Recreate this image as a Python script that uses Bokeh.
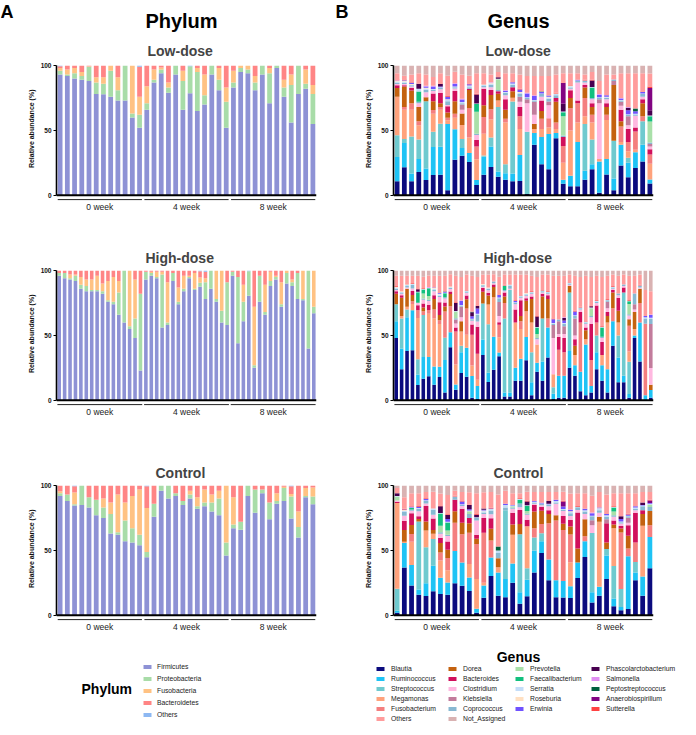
import numpy as np
from bokeh.plotting import figure
from bokeh.models import Range1d, FixedTicker, Span, Title, Legend, LegendItem
from bokeh.layouts import column, row
from bokeh.embed import file_html
from bokeh.resources import INLINE
from bokeh.core.properties import value

FONT = "Liberation Sans"
WEEKS = ["0 week", "4 week", "8 week"]

PHYLA = ["Firmicutes", "Proteobacteria", "Fusobacteria", "Bacteroidetes", "Others"]
PHYLUM_COLORS = ["#8E92D5", "#A8DCA8", "#FFC283", "#FF8585", "#8DB8F2"]

# ---------------- Phylum data (%), 12 or 16 samples per week ----------------
LOW_FIRMICUTES = [93,92,90,89,88,78,77,76,73,73,60,52, 66,87,94,79,93,66,79,65,70,93,81,52, 83,95,94,81,93,71,98,76,56,78,82,55]
LOW_PROTEOBACTERIA = [3,1,4,3,11,9,8,20,8,27,3,10, 5,2,3,4,7,22,21,30,7,7,8,20, 4,3,3,6,7,23,2,7,29,22,4,23]
LOW_FUSOBACTERIA = [2,4,4,3,0.5,4,5,4,10,0,37,14, 13,8,1.5,4,0,8,0,3,16,0,9,11, 9,2,3,5,0,4,0,6,8,0,11,7]
LOW_BACTEROIDETES = [1.5,3,2,5,0.5,9,9,0,9,0,0,23, 16,3,1.5,13,0,4,0,2,7,0,2,17, 4,0,0,8,0,2,0,11,7,0,3,15]
LOW_PH_OTHERS = [0.5,0,0,0,0,0,0,0,0,0,0,1, 0,0,0,0,0,0,0.5,0,0,0,0,0, 0,0,0,0,0,0,0,0,0,0,0,0]

HIGH_FIRMICUTES = [96,94,93,92,86,84,84,84,82,76,74,66,60,55,48,23, 93,96,94,56,58,92,74,84,94,85,88,78,86,76,60,58, 96,44,61,81,25,76,66,88,93,72,90,88,78,77,40,67]
HIGH_PROTEOBACTERIA = [2,4,1,4,3,4,1,1,2,1,2,17,40,2,15,59, 6,2,1,41,2,6,2,2,1,1,3,13,14,2,9,33, 3,51,15,19,2,20,2,4,2,2,8,3,20,1,60,5]
HIGH_FUSOBACTERIA = [0,0,3,1,6,5,8,11,6,15,19,9,0,43,30,0, 0,1,4,2,31,0,11,10,1,12,4,3,0,22,31,0, 0,0,13,0,45,0,21,7,1,17,2,2,0,22,0,28]
HIGH_BACTEROIDETES = [2,2,3,3,5,7,7,4,10,8,5,8,0,0,7,18, 1,1,1,1,9,2,13,4,4,2,5,5,0,0,0,9, 1,5,11,0,28,4,11,1,4,9,0,7,2,0,0,0]
HIGH_PH_OTHERS = [0,0,0,0,0,0,0,0,0,0,0,0,0,0,0,0, 0,0,0,0,0,0,0,0,0,0,0.5,1,0,0,0,0, 0,0,0,0.5,0,0,0,0,0,0,0,0,0,0,0,0]

CTRL_FIRMICUTES = [92,88,85,85,83,77,75,63,62,57,56,54, 45,76,96,90,92,85,90,82,84,80,77,46, 67,66,92,79,94,74,86,88,75,60,91,86]
CTRL_PROTEOBACTERIA = [2,5,1,15,8,12,8,15,2,16,11,8, 4,10,4,10,2,3,3,2,3,7,13,10, 3,6,8,18,3,13,2,10,17,8,1,6]
CTRL_FUSOBACTERIA = [1.5,0,9,0,0,0,7,9,29,14,25,35, 34,0,0,0,0,0,3,7,10,6,6,44, 21,0,0,0,0,0,6,1,2,12,6,7]
CTRL_BACTEROIDETES = [4.5,7,5,0,9,11,10,13,7,13,8,3, 17,14,0,0,6,12,4,9,3,7,4,0, 9,28,0,3,3,13,6,1,6,20,2,1.5]
CTRL_PH_OTHERS = [0,0,0.5,0,0,0,0,0,0,0,0,0, 0.5,0,0,0,0,0,0,0,0,0,0,0, 0,0,0,0,0,0,0,0,0.5,0,0,0]

# ---------------- Genus data (%) ----------------
GENERA = ["Blautia", "Ruminococcus", "Streptococcus", "Megamonas", "Fusobacterium",
          "Dorea", "Bacteroides", "Clostridium", "Klebsiella", "Coprococcus",
          "Prevotella", "Faecalibacterium", "Serratia", "Roseburia", "Erwinia",
          "Phascolarctobacterium", "Salmonella", "Peptostreptococcus",
          "Anaerobiospirillum", "Sutterella", "Others", "Not_Assigned"]
GENUS_COLORS = ["#0B0B7E", "#1EC3F5", "#6FCACF", "#FFA27C", "#F47F7F",
                "#C4620F", "#D1105C", "#FFB8E0", "#C27C9C", "#88B8D2",
                "#A9E0A9", "#12C07E", "#C3DDF8", "#FFE0C2", "#7052FF",
                "#480050", "#E08EF2", "#00603E", "#820482", "#FF4242",
                "#FF9C9C", "#D9B2B2"]

LOW_BLAUTIA = [11,22,11,18,12,16,16,4,28,31,26,8, 16,22,14,12,11,11,1,39,24,20,44,9, 7,7,12,20,2,16,4,23,14,21,26,9]
LOW_RUMINOCOCCUS = [19,19,6,10,9,22,22,52,24,6,7,4, 14,16,4,5,6,20,0,9,21,27,4,3, 8,34,7,4,24,12,9,16,11,12,13,3]
LOW_STREPTOCOCCUS = [17,3,29,15,53,12,18,0,0,7,0,0, 1,7,49,7,56,0,48,0,0,0,0,0, 0,0,36,19,0,0,29,0,4,0,18,0]
LOW_MEGAMONAS = [30,23,21,11,0,14,11,3,9,11,12,16, 17,14,5,32,3,20,0,3,6,5,3,13, 35,15,6,13,2,30,0,2,5,2,0,12]
LOW_FUSOBACTERIUM = [0,2,5,3,0,3,2,2,3,0,23,10, 13,8,0,3,0,10,0,0,8,7,5,13, 17,15,14,6,0,4,0,12,7,14,4,7]
LOW_DOREA = [7,16,10,11,3,7,3,4,10,9,14,0, 9,11,5,7,5,0,0,4,6,0,16,0, 8,0,8,6,0,6,43,4,0,0,10,0]
LOW_BACTEROIDES = [2,1,2,0,0,6,8,5,8,0,1,5, 13,4,2,8,3,7,0,0,8,0,3,7, 6,2,2,3,0,3,0,9,10,3,3,4]
LOW_CLOSTRIDIUM = [1,1,1,3,4,2,3,1,2,3,0,4, 1,2,0,3,0,4,22,7,3,10,0,0, 1,14,2,3,43,3,0,3,3,9,2,2]
LOW_KLEBSIELLA = [0,0,0,0,0,0,0,0,0,4,0,0, 0,0,0,0,0,4,3,10,0,3,0,0, 0,0,0,0,3,0,3,3,7,0,0,2]
LOW_COPROCOCCUS = [1,1,1,1,2,1,1,3,1,1,1,1, 1,2,1,2,2,2,1,1,2,2,2,1, 1,1,1,1,1,1,1,1,1,1,2,1]
LOW_PREVOTELLA = [0,0,0,0,0,0,0,0,0,0,0,17, 0,0,8,0,0,0,0,0,0,0,0,15, 0,0,0,0,0,0,0,0,0,0,0,16]
LOW_FAECALIBACTERIUM = [0,0,0,8,0,0,0,0,0,0,0,6, 0,0,0,0,0,0,0,0,0,0,0,3, 0,0,0,8,0,0,0,0,0,0,0,4]
LOW_SERRATIA = [1,1,0.5,2,1,0.5,0.5,1,0.5,1,1,0.5, 1,1,0.5,0.5,1,1,0.5,0.5,0.5,1,1,0.5, 1,0.5,0.5,0.5,0.5,0.5,0.5,0.5,0.5,0.5,0.5,0.5]
LOW_ROSEBURIA = [0.5,0.5,0.5,0,0.5,0,0,0.5,0,0,0.5,0, 0.5,0.5,0,0,0,0.5,0,0,0,0.5,0.5,0, 0.5,0,0,0,0,0.5,0,0,0,0,0,0]
LOW_ERWINIA = [0,0.5,1,0,1,2,0.5,2,2,2,1,0, 0,0,0,1,1,2,3,3,1,1,0,0, 0,0.5,0,0,2,1,0,1,3,2,1,0]
LOW_PHASCOLARCTOBACTERIUM = [0,0,0,4,0,0,2,0,0,0,0,7, 0,0,1,0,0,0,0,0,0,0,0,6, 0,0,0,5,0,0,0,0,2,0,0,4]
LOW_SALMONELLA = [0.5,0,0,0,0.5,0.5,0,0,0.5,0.5,0,0, 0,0.5,0,0.5,0,0,0.5,0.5,0,0,0,0, 0,0,0,0,0.5,0,0,0.5,0.5,0,0,0]
LOW_PEPTOSTREPTOCOCCUS = [0,0,0,0,0,0,0,0,0,0,0,0, 0,0,0,0,0,0,0,0,0.5,0,0,0, 0,0,0,0,0,0,0,0,0,2,0,0]
LOW_ANAEROBIOSPIRILLUM = [0,0,0,0,0,0,0,0,0,0,0,0, 0,0,0,0,0,0,0,0,0,0,0,16, 0,0,0,0,0,0,0,0,0,0,0,17]
LOW_SUTTERELLA = [0.5,0.5,0.5,0,0,0,0.5,0.5,0,0,0.5,0.5, 0.5,0,0,0,0,0.5,0,0,0,0,0.5,0.5, 0.5,0,0.5,0.5,0,0,0.5,0,0,0,0.5,1]
LOW_OTHERS = [5,3,6,8,9,7,8,16,9,19,6,16, 8,6,4,13,7,11,13,15,12,15,14,7, 9,5,4,6,10,16,3,19,26,27,14,10]
LOW_NOT_ASSIGNED = [6,8,7,6,7,9,6,8,5,7,8,6, 6,7,5,6,6,7,8,8,8,8,7,6, 6,6,7,5,12,7,7,6,6,6,6,6]

HIGH_BLAUTIA = [48,24,38,39,12,17,19,12,18,6,43,8,21,18,2,1, 35,14,24,35,3,3,15,15,31,4,22,15,33,1,2,2, 25,19,7,4,6,24,15,6,42,14,14,2,48,30,0,2]
HIGH_RUMINOCOCCUS = [13,16,26,31,8,17,15,14,8,25,12,4,16,22,17,10, 12,7,26,3,3,3,10,17,18,10,7,15,23,4,17,17, 13,8,15,39,5,13,12,18,19,19,5,3,2,30,4,6]
HIGH_STREPTOCOCCUS = [13,23,6,0,12,33,0,0,0,17,0,0,5,0,0,0, 28,37,0,0,57,79,0,0,0,23,0,33,0,5,0,0, 45,0,0,0,0,13,0,0,0,17,64,25,0,0,0,0]
HIGH_MEGAMONAS = [0,2,2,5,32,0,34,37,33,0,0,15,11,10,8,5, 0,15,31,12,0,0,35,23,20,23,14,0,0,10,0,0, 0,8,0,4,0,0,8,36,0,10,0,8,5,0,0,0]
HIGH_FUSOBACTERIUM = [0,0,0,2,6,3,3,7,3,20,21,25,0,20,24,20, 0,0,0,10,12,0,0,6,0,0,0,0,7,0,20,18, 0,0,38,0,20,10,0,0,10,0,0,20,0,15,55,0]
HIGH_DOREA = [8,14,14,5,0,3,0,8,4,4,10,0,8,7,0,0, 9,7,8,0,5,0,0,4,8,18,0,17,15,0,0,0, 5,7,0,7,0,0,0,5,12,9,0,5,13,11,0,4]
HIGH_BACTEROIDES = [2,2,0,3,4,3,4,3,10,3,2,3,0,3,8,21, 3,2,2,2,3,0,10,12,2,2,0,2,3,0,10,11, 0,5,8,2,28,13,10,3,2,10,4,0,0,0,0,0]
HIGH_CLOSTRIDIUM = [1,1,1,2,2,3,3,3,4,3,2,3,3,2,3,4, 1,2,1,5,1,1,4,2,2,2,4,1,1,28,2,3, 1,3,2,3,5,2,3,3,1,2,1,3,2,1,0,13]
HIGH_KLEBSIELLA = [0,0,0,0,0,0,0,0,0,0,0,3,8,0,0,0, 0,0,0,11,0,0,0,0,0,0,0,0,0,10,10,6, 0,13,0,0,0,0,0,5,0,0,0,0,4,0,0,34]
HIGH_COPROCOCCUS = [1,1,1,3,0,1,1,1,1,1,1,1,1,1,1,5, 1,1,1,3,1,2,1,1,1,1,1,1,1,1,1,2, 1,2,1,1,1,1,1,1,1,1,1,1,8,1,4,4]
HIGH_PREVOTELLA = [0,0,0,0,0,4,3,0,0,0,0,5,0,0,0,0, 0,0,0,0,0,0,0,0,0,0,3,0,0,0,0,0, 0,0,0,0,6,0,0,0,0,0,0,8,0,0,0,0]
HIGH_FAECALIBACTERIUM = [0,0,0,0,8,3,6,0,0,3,0,0,0,0,0,0, 0,0,0,0,3,0,0,0,0,0,5,0,0,0,0,0, 0,0,0,0,0,0,7,0,0,0,0,2,0,0,0,0]
HIGH_SERRATIA = [1,0.5,1,0.5,0.5,0.5,0.5,1,1,0.5,0.5,0.5,0.5,0.5,0.5,1, 0.5,0.5,0.5,0.5,0.5,1,0.5,0.5,0.5,0.5,0.5,0.5,0.5,0.5,0.5,0.5, 0.5,0.5,0.5,0.5,0.5,0.5,0.5,0.5,0.5,0.5,0.5,0.5,0.5,0.5,1,1]
HIGH_ROSEBURIA = [0.5,0.5,0.5,0,0,0,0,0.5,0.5,0,0.5,0,0,0,0,0, 0.5,0.5,0,0,0,0,0,0,0.5,0,0,0,0,0,0,0, 0,0,0,0,0,0,0,0,0,0,0,0,0,0,0,0]
HIGH_ERWINIA = [0,0,0,0,0,0,0,0.5,0.5,0.5,0,0,3,0,2,4, 0,0,0,2,0,0,1,0,0,0,0,0,0,3,0,2, 0,3,0,0,0,0,0,0,0,0,0,0,0,0,1,2]
HIGH_PHASCOLARCTOBACTERIUM = [0,0,0,0,2,0,0,0,0,0,0,6,0,0,3,2, 0,0,0,0,0,0,0,0,0,0,8,0,0,0,0,2, 0,0,0,0,1,0,0,0,0,0,0,0,0,0,0,0]
HIGH_SALMONELLA = [0,0,0,0,0,0,0.5,0,0,0,0,0,0.5,0,0,0, 0,0,0,0,0,0,0,0,0,0,0,0,0,0,0,0.5, 0,0,0,0,0,0,0,0,0,0,0,0,0,0,0,0.5]
HIGH_PEPTOSTREPTOCOCCUS = [0,0,0,0,0,0,0,0,0,0.5,0,0,0,0,0.5,0, 0,0,0,0,0,0,0,0,0,0,0,0,0,0,0,0, 0,0,0,0,0,0,0,0,0,0,0,0,0,0,0,0]
HIGH_ANAEROBIOSPIRILLUM = [0,0,0,0,0,0,0,0,0,0,0,0,0,0,0,0, 0,0,0,0,0,0,0,0,0,0,0,0,0,0,0,0, 0,0,0,0,0,0,0,0,0,0,0,0,0,0,0,0]
HIGH_SUTTERELLA = [0.5,0,0.5,0.5,0.5,0.5,0,0,0.5,0,0,0.5,0,0.5,0,0.5, 0.5,0,0.5,0.5,0.5,0,0.5,0.5,0.5,0.5,0.5,0.5,0.5,0.5,0.5,0, 0.5,0.5,0.5,0.5,0.5,0.5,0.5,0.5,0.5,0.5,0.5,0.5,0.5,0.5,0,0]
HIGH_OTHERS = [8,12,6,6,10,9,9,9,13,12,10,20,18,12,28,22, 7,10,5,14,8,8,20,16,14,12,30,12,13,33,33,32, 6,27,23,35,22,19,38,18,9,13,7,19,13,8,20,18]
HIGH_NOT_ASSIGNED = [4,4,4,4,4,5,4,4,4,4,3,4,5,3,4,5, 3,3,3,5,3,3,3,3,3,4,5,3,3,4,4,4, 3,4,5,4,5,4,5,4,3,4,3,4,4,3,15,16]

CTRL_BLAUTIA = [2,37,23,16,15,19,16,15,25,23,18,2, 13,30,15,14,25,9,15,33,47,27,14,14, 13,29,45,10,15,28,7,4,5,27,15,36]
CTRL_RUMINOCOCCUS = [1.5,19,16,4,10,20,12,9,25,18,10,3, 9,14,18,14,15,9,13,17,9,16,13,13, 9,12,12,8,7,18,6,2.5,41,6,15,24]
CTRL_STREPTOCOCCUS = [17,0,0,53,28,21,0,0,0,0,0,0, 0,0,0,53,0,45,9,10,6,0,0,0, 0,0,0,46,0,5,25,14,0,8,0,0]
CTRL_MEGAMONAS = [66,1,18,0,13,4,13,9,0,0,10,23, 2,0,4,0,22,0,33,0,0,0,0,0, 18,0,0,0,50,0,29,0,0,0,39,0]
CTRL_FUSOBACTERIUM = [0,0,6,0,0,0,6,9,22,22,23,27, 37,13,0,0,0,0,0,7,7,28,46,40, 21,0,4,0,0,0,0,44,6,15,0,9]
CTRL_DOREA = [0,9,7,2,7,3,7,6,9,9,7,4, 0,9,7,0,8,8,0,13,10,7,4,5, 6,11,13,0,4,5,3,3,10,0,9,11]
CTRL_BACTEROIDES = [1,7,9,2,12,9,4,6,9,11,4,3, 11,8,0,0,9,11,5,5,3,3,0,6, 5,28,0,0,0,15,3,2,8,23,3,0]
CTRL_CLOSTRIDIUM = [1,4,2,4,2,3,3,4,0,2,0,11, 3,3,0,0,3,2,4,1,1,3,9,4, 3,2,4,6,3,0,3,2,2,2,0,0]
CTRL_KLEBSIELLA = [0,0,0,0,0,0,0,0,0,0,0,0, 0,0,0,0,0,0,0,0,0,0,0,0, 0,0,0,4,0,3,0,0,4,0,0,0]
CTRL_COPROCOCCUS = [0,3,1,2,2,4,1,1,2,1,3,2, 1,3,4,2,1,3,1,1,1,1,1,1, 2,2,2,3,2,2,1,1,1,1,3,3]
CTRL_PREVOTELLA = [3,0,0,0,0,0,5,3,0,0,2,0, 0,0,0,0,1,0,2,0,0,0,0,0, 0,0,0,0,0,0,3,0,0,0,0,2]
CTRL_FAECALIBACTERIUM = [0,0,1,0,0,0,9,6,0,0,0,0, 0,0,0,0,0,3,4,0,0,0,0,0, 0,0,0,0,0,0,3,0,0,0,0,0]
CTRL_SERRATIA = [0.5,1,0.5,0.5,0.5,1,0.5,0.5,0.5,0.5,0.5,0.5, 1,1,2,2,0.5,0.5,0.5,0.5,0.5,0.5,1,0.5, 1,0.5,1,0.5,1,1,0.5,0.5,0.5,1,0.5,0.5]
CTRL_ROSEBURIA = [0,0.5,0,0,0,0,0,0,0,0,0,0, 0.5,0,0,0,0,0,0,0,0,0,0,0, 0.5,0,0,0,0.5,0,0,0,0,0,0,0]
CTRL_ERWINIA = [0,0.5,0.5,1,1,0,0,2,0,2,1,0, 0.5,0.5,0,1,0.5,0,0,0.5,0.5,0.5,1,2, 1,0,1,2,0.5,1,0,2,1,1,0.5,0.5]
CTRL_PHASCOLARCTOBACTERIUM = [2,0,0,0,0,0,5,3,0,0,3,2, 1,0,0,0,0,0,3,0,0,2,0,0, 0,0,0,0,0,0,0,2,0,0,2,0]
CTRL_SALMONELLA = [0,0,0,0,0,0,0,0,0,0,0,0, 0,0,0,0,0,0,0,0,0,0,0,0, 0.5,0,0,0.5,0,0,0,0,0,0,0,0]
CTRL_PEPTOSTREPTOCOCCUS = [0,0,0,0,0,0,0,0,0,0,0,0, 0,0,3,0,0,0,0,0,0,0,0,0, 0,0,0,0,0,0,0,0,0,0,0,0]
CTRL_ANAEROBIOSPIRILLUM = [0,0,0,0,0,0,0,0,0,0,0,0, 0,0,0,0,0,0,0,0,0,0,0,4, 0,0,0,0,0,0,0,0,0,0,0,2]
CTRL_SUTTERELLA = [0,0.5,0.5,0.5,0.5,0,0.5,0.5,0.5,0.5,0.5,0.5, 0,0.5,0,0,0,0.5,0.5,0,0,0,0,0.5, 0,0.5,0,0,0,0,0.5,0,0.5,0,0,0.5]
CTRL_OTHERS = [4,9,10,10,5,13,9,14,4,7,9,16, 12,12,40,10,9,4,7,7,8,7,6,7, 12,10,12,13,12,15,10,18,16,10,8,6]
CTRL_NOT_ASSIGNED = [2,9,6,6,5,5,6,7,4,5,5,6, 5,5,7,4,6,6,5,5,5,5,5,5, 6,6,6,8,5,7,6,6,6,6,5,5]

LOW_PHYLUM = [LOW_FIRMICUTES, LOW_PROTEOBACTERIA, LOW_FUSOBACTERIA, LOW_BACTEROIDETES, LOW_PH_OTHERS]
HIGH_PHYLUM = [HIGH_FIRMICUTES, HIGH_PROTEOBACTERIA, HIGH_FUSOBACTERIA, HIGH_BACTEROIDETES, HIGH_PH_OTHERS]
CTRL_PHYLUM = [CTRL_FIRMICUTES, CTRL_PROTEOBACTERIA, CTRL_FUSOBACTERIA, CTRL_BACTEROIDETES, CTRL_PH_OTHERS]

LOW_GENUS = [LOW_BLAUTIA, LOW_RUMINOCOCCUS, LOW_STREPTOCOCCUS, LOW_MEGAMONAS, LOW_FUSOBACTERIUM,
             LOW_DOREA, LOW_BACTEROIDES, LOW_CLOSTRIDIUM, LOW_KLEBSIELLA, LOW_COPROCOCCUS,
             LOW_PREVOTELLA, LOW_FAECALIBACTERIUM, LOW_SERRATIA, LOW_ROSEBURIA, LOW_ERWINIA,
             LOW_PHASCOLARCTOBACTERIUM, LOW_SALMONELLA, LOW_PEPTOSTREPTOCOCCUS,
             LOW_ANAEROBIOSPIRILLUM, LOW_SUTTERELLA, LOW_OTHERS, LOW_NOT_ASSIGNED]
HIGH_GENUS = [HIGH_BLAUTIA, HIGH_RUMINOCOCCUS, HIGH_STREPTOCOCCUS, HIGH_MEGAMONAS, HIGH_FUSOBACTERIUM,
              HIGH_DOREA, HIGH_BACTEROIDES, HIGH_CLOSTRIDIUM, HIGH_KLEBSIELLA, HIGH_COPROCOCCUS,
              HIGH_PREVOTELLA, HIGH_FAECALIBACTERIUM, HIGH_SERRATIA, HIGH_ROSEBURIA, HIGH_ERWINIA,
              HIGH_PHASCOLARCTOBACTERIUM, HIGH_SALMONELLA, HIGH_PEPTOSTREPTOCOCCUS,
              HIGH_ANAEROBIOSPIRILLUM, HIGH_SUTTERELLA, HIGH_OTHERS, HIGH_NOT_ASSIGNED]
CTRL_GENUS = [CTRL_BLAUTIA, CTRL_RUMINOCOCCUS, CTRL_STREPTOCOCCUS, CTRL_MEGAMONAS, CTRL_FUSOBACTERIUM,
              CTRL_DOREA, CTRL_BACTEROIDES, CTRL_CLOSTRIDIUM, CTRL_KLEBSIELLA, CTRL_COPROCOCCUS,
              CTRL_PREVOTELLA, CTRL_FAECALIBACTERIUM, CTRL_SERRATIA, CTRL_ROSEBURIA, CTRL_ERWINIA,
              CTRL_PHASCOLARCTOBACTERIUM, CTRL_SALMONELLA, CTRL_PEPTOSTREPTOCOCCUS,
              CTRL_ANAEROBIOSPIRILLUM, CTRL_SUTTERELLA, CTRL_OTHERS, CTRL_NOT_ASSIGNED]

for grp in (LOW_PHYLUM, CTRL_PHYLUM, LOW_GENUS, CTRL_GENUS):
    for s in grp:
        assert len(s) == 36, len(s)
for grp in (HIGH_PHYLUM, HIGH_GENUS):
    for s in grp:
        assert len(s) == 48, len(s)

GENUS_LEGEND_COLS = [
    ["Blautia", "Ruminococcus", "Streptococcus", "Megamonas", "Fusobacterium", "Others"],
    ["Dorea", "Bacteroides", "Clostridium", "Klebsiella", "Coprococcus", "Not_Assigned"],
    ["Prevotella", "Faecalibacterium", "Serratia", "Roseburia", "Erwinia"],
    ["Phascolarctobacterium", "Salmonella", "Peptostreptococcus", "Anaerobiospirillum", "Sutterella"],
]

FRAME_W = 260
FRAME_H = 148
FIG_W = 340


def make_panel(series, colors, title, top_border, left_border, title_offset, title_standoff):
    arr = np.array(series, dtype=float)
    arr = arr / arr.sum(axis=0) * 100.0
    n = arr.shape[1]
    x = np.arange(n)
    p = figure(frame_width=FRAME_W, frame_height=FRAME_H,
               x_range=Range1d(-0.5, n - 0.5), y_range=Range1d(-14, 100),
               output_backend="svg", toolbar_location=None,
               min_border_left=left_border, min_border_right=FIG_W - FRAME_W - left_border,
               min_border_top=top_border, min_border_bottom=0)
    p.outline_line_color = None
    p.grid.visible = False
    p.xaxis.visible = False

    bottom = np.zeros(n)
    for vals, c in zip(arr, colors):
        top = bottom + vals
        p.vbar(x=x, bottom=bottom, top=top, width=0.66, fill_color=c, line_color=None)
        bottom = top

    ax = p.yaxis[0]
    ax.bounds = (0, 100)
    ax.ticker = FixedTicker(ticks=[0, 50, 100])
    ax.major_label_text_font = FONT
    ax.major_label_text_font_size = "6.5px"
    ax.major_label_text_font_style = "bold"
    ax.major_label_text_color = "#111111"
    ax.major_label_standoff = 2
    ax.major_tick_out = 3
    ax.major_tick_in = 0
    ax.minor_tick_out = 0
    ax.minor_tick_in = 0
    ax.axis_line_width = 1.6
    ax.axis_line_color = "black"
    ax.major_tick_line_width = 1.2

    p.add_layout(Span(location=0, dimension="width", line_color="black", line_width=2))

    g = n // 3
    x0 = [k * g - 0.33 for k in range(3)]
    x1 = [k * g + g - 0.67 for k in range(3)]
    yb = [-3.3, -3.3, -3.3]
    p.segment(x0=x0, y0=yb, x1=x1, y1=yb, line_color="#222222", line_width=1)
    xc = [k * g + (g - 1) / 2 for k in range(3)]
    p.text(x=xc, y=[-8.7] * 3, text=WEEKS, text_align="center", text_baseline="middle",
           text_font=value(FONT), text_font_size=value("8.5px"), text_color="#222222")

    p.add_layout(Title(text="Relative abundance (%)", align="right", offset=24, standoff=5,
                       text_font=FONT, text_font_size="7px", text_font_style="bold",
                       text_color="#111111"), "left")

    p.title.text = title
    p.title.align = "left"
    p.title.offset = title_offset
    p.title.text_font = FONT
    p.title.text_font_size = "14px"
    p.title.text_font_style = "bold"
    p.title.standoff = title_standoff
    return p


pa1 = make_panel(LOW_PHYLUM, PHYLUM_COLORS, "Low-dose", 28, 56, 91, 14)
pb1 = make_panel(LOW_GENUS, GENUS_COLORS, "Low-dose", 28, 53, 92, 14)
pa2 = make_panel(HIGH_PHYLUM, PHYLUM_COLORS, "High-dose", 57, 56, 89, 10)
pb2 = make_panel(HIGH_GENUS, GENUS_COLORS, "High-dose", 57, 53, 90, 10)
pa3 = make_panel(CTRL_PHYLUM, PHYLUM_COLORS, "Control", 67, 56, 99, 10)
pb3 = make_panel(CTRL_GENUS, GENUS_COLORS, "Control", 67, 53, 100, 10)

# ---------------- header (panel letters and column headings) ----------------
head = figure(frame_width=680, frame_height=33, x_range=Range1d(0, 680), y_range=Range1d(0, 33),
              output_backend="svg", toolbar_location=None, min_border=0)
head.axis.visible = False
head.grid.visible = False
head.outline_line_color = None
head.text(x=[0, 335], y=[21.5, 21.5], text=["A", "B"], text_align="left", text_baseline="middle",
          text_font=value(FONT), text_font_size=value("18px"), text_font_style="bold", text_color="black")
head.text(x=[181, 518], y=[13, 13], text=["Phylum", "Genus"], text_align="center",
          text_baseline="middle", text_font=value(FONT), text_font_size=value("20px"),
          text_font_style="bold", text_color="black")

# ---------------- legends ----------------
leg = figure(frame_width=680, frame_height=90, x_range=Range1d(0, 680), y_range=Range1d(0, 90),
             output_backend="svg", toolbar_location=None, min_border=0)
leg.axis.visible = False
leg.grid.visible = False
leg.outline_line_color = None


def add_legend(fig, names, colors, x, y, label_height, standoff):
    items = []
    for nme, c in zip(names, colors):
        r = fig.rect(x=[-100], y=[-100], width=1, height=1, fill_color=c, line_color=None)
        items.append(LegendItem(label=nme, renderers=[r]))
    lg = Legend(items=items, location=(x, y), orientation="vertical",
                glyph_width=10, glyph_height=5, label_height=label_height, spacing=1,
                padding=0, margin=0, label_standoff=standoff,
                label_text_font=FONT, label_text_font_size="6.8px", label_text_color="#222222",
                border_line_color=None, background_fill_alpha=0)
    fig.add_layout(lg)


add_legend(leg, PHYLA, PHYLUM_COLORS, 142, 3.5, 11, 5)
gcolor = dict(zip(GENERA, GENUS_COLORS))
for cx, names in zip([375, 447, 514, 590], GENUS_LEGEND_COLS):
    yb = 0 if len(names) == 6 else 10
    add_legend(leg, names, [gcolor[nm] for nm in names], cx, yb, 9, 6)

leg.text(x=[81], y=[35], text=["Phylum"], text_align="left", text_baseline="middle",
         text_font=value(FONT), text_font_size=value("14px"), text_font_style="bold", text_color="black")
leg.text(x=[518], y=[67], text=["Genus"], text_align="center", text_baseline="middle",
         text_font=value(FONT), text_font_size=value("14px"), text_font_style="bold", text_color="black")

layout = column(head, row(pa1, pb1), row(pa2, pb2), row(pa3, pb3), leg)
open("out.html", "w").write(file_html(layout, INLINE))
